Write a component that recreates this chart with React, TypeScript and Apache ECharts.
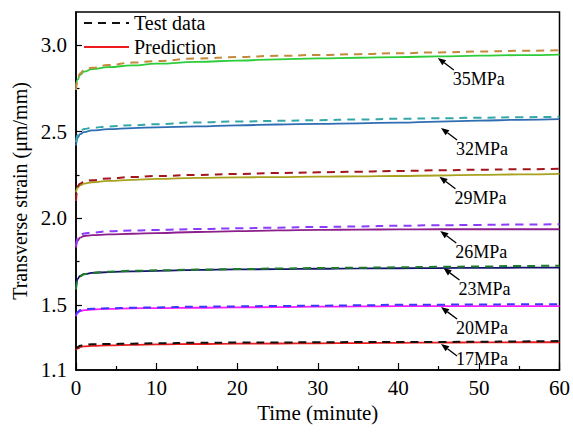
import React, { useEffect, useRef } from "react";
import * as echarts from "echarts";

const FONT = "'Liberation Serif', 'Times New Roman', serif";

const TIME = [0, 0.2, 0.5, 1, 2, 4, 7, 10, 15, 20, 25, 30, 35, 40, 45, 50, 55, 60];

const PRED_35 = [2.76, 2.80, 2.828, 2.846, 2.86, 2.872, 2.882, 2.892, 2.902, 2.91, 2.917, 2.922, 2.926, 2.93, 2.934, 2.938, 2.941, 2.944];
const TEST_35 = [2.74, 2.80, 2.835, 2.855, 2.868, 2.884, 2.898, 2.907, 2.922, 2.93, 2.937, 2.942, 2.947, 2.952, 2.957, 2.962, 2.966, 2.97];
const PRED_32 = [2.42, 2.465, 2.485, 2.497, 2.507, 2.514, 2.52, 2.525, 2.53, 2.536, 2.541, 2.545, 2.548, 2.552, 2.558, 2.563, 2.568, 2.572];
const TEST_32 = [2.44, 2.48, 2.50, 2.515, 2.522, 2.53, 2.537, 2.543, 2.553, 2.558, 2.562, 2.566, 2.57, 2.574, 2.577, 2.58, 2.583, 2.586];
const PRED_29 = [2.15, 2.175, 2.19, 2.2, 2.208, 2.216, 2.222, 2.227, 2.233, 2.236, 2.238, 2.24, 2.242, 2.244, 2.247, 2.25, 2.253, 2.256];
const TEST_29 = [2.10, 2.185, 2.2, 2.212, 2.22, 2.23, 2.238, 2.244, 2.25, 2.256, 2.261, 2.265, 2.269, 2.273, 2.277, 2.28, 2.283, 2.286];
const PRED_26 = [1.83, 1.87, 1.888, 1.898, 1.903, 1.907, 1.911, 1.915, 1.921, 1.926, 1.93, 1.933, 1.935, 1.936, 1.937, 1.937, 1.937, 1.937];
const TEST_26 = [1.84, 1.885, 1.903, 1.912, 1.918, 1.925, 1.93, 1.933, 1.938, 1.942, 1.946, 1.95, 1.953, 1.957, 1.96, 1.962, 1.964, 1.966];
const PRED_23 = [1.606, 1.65, 1.668, 1.678, 1.685, 1.69, 1.694, 1.697, 1.702, 1.705, 1.707, 1.709, 1.711, 1.712, 1.713, 1.714, 1.715, 1.715];
const TEST_23 = [1.59, 1.645, 1.665, 1.678, 1.686, 1.692, 1.697, 1.7, 1.704, 1.707, 1.71, 1.713, 1.715, 1.717, 1.72, 1.722, 1.725, 1.727];
const PRED_20 = [1.435, 1.455, 1.465, 1.47, 1.474, 1.478, 1.481, 1.482, 1.484, 1.486, 1.488, 1.49, 1.492, 1.493, 1.494, 1.494, 1.494, 1.494];
const TEST_20 = [1.44, 1.46, 1.47, 1.475, 1.478, 1.481, 1.484, 1.486, 1.49, 1.492, 1.494, 1.496, 1.498, 1.501, 1.502, 1.503, 1.504, 1.504];
const PRED_17 = [1.24, 1.25, 1.257, 1.261, 1.264, 1.267, 1.27, 1.273, 1.275, 1.277, 1.278, 1.279, 1.28, 1.282, 1.283, 1.284, 1.285, 1.285];
const TEST_17 = [1.245, 1.258, 1.265, 1.27, 1.273, 1.275, 1.277, 1.279, 1.282, 1.283, 1.284, 1.285, 1.286, 1.286, 1.287, 1.288, 1.29, 1.292];

const Y_LABEL_VALUES = [1.125, 1.5, 2.0, 2.5, 3.0];
const Y_MAJOR_TICKS = [1.5, 2.0, 2.5, 3.0];
const Y_MINOR_TICKS = [1.25, 1.75, 2.25, 2.75];

const ANNOT_LABELS = ["35MPa", "32MPa", "29MPa", "26MPa", "23MPa", "20MPa", "17MPa"];
const ANNOT_T = [44.9, 45.3, 45.1, 45.2, 45.6, 45.3, 45.3];
const ANNOT_V = [2.925, 2.521, 2.24, 1.927, 1.713, 1.488, 1.275];
const ANNOT_DY = [0, 0, 0, 0, 0, 0, -6];

type S = { name: string; data: number[]; color: string; dashed: boolean };

const SERIES: S[] = [
  { name: "Test data", data: TEST_17, color: "#111111", dashed: true },
  { name: "Prediction", data: PRED_17, color: "#ee1c1c", dashed: false },
  { name: "20MPa test", data: TEST_20, color: "#3a3aff", dashed: true },
  { name: "20MPa pred", data: PRED_20, color: "#ff1aff", dashed: false },
  { name: "23MPa test", data: TEST_23, color: "#1f7a2a", dashed: true },
  { name: "23MPa pred", data: PRED_23, color: "#14146e", dashed: false },
  { name: "26MPa test", data: TEST_26, color: "#8a3cff", dashed: true },
  { name: "26MPa pred", data: PRED_26, color: "#8c1f8c", dashed: false },
  { name: "29MPa test", data: TEST_29, color: "#a3161c", dashed: true },
  { name: "29MPa pred", data: PRED_29, color: "#a8a11e", dashed: false },
  { name: "32MPa test", data: TEST_32, color: "#34a8a8", dashed: true },
  { name: "32MPa pred", data: PRED_32, color: "#2f6db3", dashed: false },
  { name: "35MPa test", data: TEST_35, color: "#c38a3c", dashed: true },
  { name: "35MPa pred", data: PRED_35, color: "#2ecc3a", dashed: false },
];

export default function App() {
  const ref = useRef<HTMLDivElement>(null);
  useEffect(() => {
    if (!ref.current) return;
    const chart = echarts.init(ref.current, undefined, { renderer: "svg" });
    const textStyle = { color: "#000", fontFamily: FONT, fontWeight: "normal" as const };
    const option: any = {
      animation: false,
      backgroundColor: "#fff",
      grid: {
        left: 76, right: 11, top: 12, bottom: 63,
        show: true, borderColor: "#000", borderWidth: 1.5, backgroundColor: "transparent",
      },
      legend: {
        data: ["Test data", "Prediction"],
        orient: "vertical",
        left: 83, top: 13, padding: 0, itemGap: 4,
        itemWidth: 45, itemHeight: 14,
        itemStyle: { opacity: 0, borderWidth: 0 },
        textStyle: { ...textStyle, fontSize: 20 },
        selectedMode: false,
      },
      xAxis: {
        type: "value", min: 0, max: 60, interval: 10,
        name: "Time (minute)", nameLocation: "middle", nameGap: 32,
        nameTextStyle: { ...textStyle, fontSize: 21 },
        axisLine: { lineStyle: { color: "#000", width: 1.5 } },
        axisTick: { inside: true, length: 7, lineStyle: { color: "#000", width: 1.2 } },
        minorTick: { show: true, splitNumber: 2, length: 4, lineStyle: { color: "#000", width: 1.2 } },
        splitLine: { show: false },
        axisLabel: { ...textStyle, fontSize: 21, margin: 7 },
      },
      yAxis: [
        {
          type: "value", min: 1.125, max: 3.19,
          name: "Transverse strain (μm/mm)", nameLocation: "middle", nameGap: 45,
          nameTextStyle: { ...textStyle, fontSize: 20 },
          axisLine: { lineStyle: { color: "#000", width: 1.5 } },
          axisTick: { inside: true, length: 6, customValues: Y_MAJOR_TICKS, lineStyle: { color: "#000", width: 1.2 } },
          splitLine: { show: false },
          axisLabel: {
            ...textStyle, fontSize: 21, margin: 9,
            customValues: Y_LABEL_VALUES,
            formatter: (v: number) => (Math.abs(v - 1.125) < 1e-6 ? "1.1" : v.toFixed(1)),
          },
        },
        {
          type: "value", min: 1.125, max: 3.19, position: "left",
          axisLine: { show: false },
          axisTick: { show: true, inside: true, length: 3.5, customValues: Y_MINOR_TICKS, lineStyle: { color: "#000", width: 1.2 } },
          axisLabel: { show: false },
          splitLine: { show: false },
        },
      ],
      series: SERIES.map((s) => ({
        name: s.name,
        type: "line",
        yAxisIndex: 0,
        data: TIME.map((t, i) => [t, s.data[i]]),
        symbol: "none",
        smooth: true,
        smoothMonotone: "x",
        lineStyle: { color: s.color, width: s.dashed ? 2 : 1.8, type: s.dashed ? [8, 6] : "solid" },
        itemStyle: { color: s.color },
        z: s.dashed ? 3 : 2,
      })),
    };
    chart.setOption(option);

    const graphics: any[] = [];
    ANNOT_LABELS.forEach((label, i) => {
      const p = chart.convertToPixel({ gridIndex: 0 }, [ANNOT_T[i], ANNOT_V[i]]) as number[];
      const ux = 0.8, uy = 0.6, nx = -0.6, ny = 0.8;
      const headLen = 8, half = 3.2, total = 20;
      const bx = p[0] + ux * headLen, by = p[1] + uy * headLen;
      graphics.push({
        type: "polygon",
        shape: { points: [[p[0], p[1]], [bx + nx * half, by + ny * half], [bx - nx * half, by - ny * half]] },
        style: { fill: "#000" },
        silent: true,
      });
      graphics.push({
        type: "line",
        shape: { x1: bx, y1: by, x2: p[0] + ux * total, y2: p[1] + uy * total },
        style: { stroke: "#000", lineWidth: 1.3 },
        silent: true,
      });
      graphics.push({
        type: "text",
        x: p[0] + 15,
        y: p[1] + 12 + ANNOT_DY[i],
        style: { text: label, fill: "#000", fontSize: 18, fontFamily: FONT, fontWeight: "normal", verticalAlign: "top" },
        silent: true,
      });
    });
    chart.setOption({ graphic: graphics });
    return () => chart.dispose();
  }, []);
  return <div ref={ref} style={{ width: 573, height: 433, position: "absolute", left: 0, top: 0 }} />;
}
